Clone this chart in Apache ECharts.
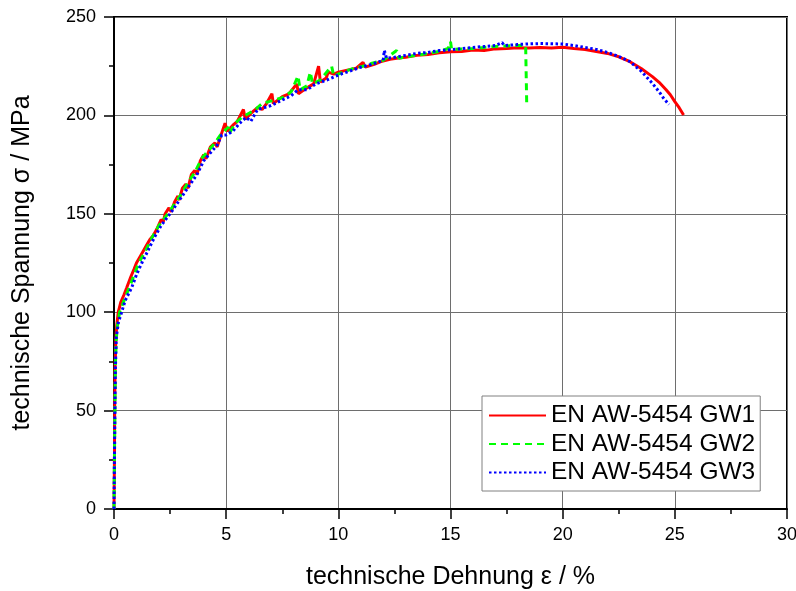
<!DOCTYPE html>
<html>
<head>
<meta charset="utf-8">
<script src="https://cdn.jsdelivr.net/npm/echarts@6/dist/echarts.min.js"></script>
<style>html,body{margin:0;padding:0;background:#fff}#c{width:796px;height:591px}</style>
</head>
<body>
<div id="c"></div>
<script>
var seriesNames = ['EN AW-5454 GW1', 'EN AW-5454 GW2', 'EN AW-5454 GW3'];
var xTicks = [0, 5, 10, 15, 20, 25, 30];
var yTicks = [0, 50, 100, 150, 200, 250];

var gw1 = [[0,0],[0.02,25],[0.03,50],[0.05,72],[0.08,85],[0.12,93],[0.19,100],[0.3,105],[0.45,109],[0.57,112.5],[0.75,118],[0.9,122],[1.0,125],[1.2,129],[1.3,131],[1.45,134],[1.6,137],[1.75,139],[1.9,142],[2.1,147],[2.2,146],[2.28,150],[2.45,153],[2.55,151],[2.7,156],[2.85,159],[2.9,157],[3.05,163],[3.2,165],[3.3,163],[3.45,170],[3.6,172],[3.7,170],[3.85,177],[4.0,180],[4.1,178],[4.3,184],[4.5,186],[4.6,184],[4.8,191],[4.95,196],[5.05,192],[5.3,195],[5.5,197],[5.77,203],[5.85,198],[6.1,201],[6.4,204],[6.6,203],[6.8,206],[7.04,211],[7.1,206],[7.5,209.5],[7.8,211],[8.15,216],[8.22,211],[8.6,214],[8.9,216],[9.12,225],[9.2,217],[9.46,219],[9.55,222],[9.8,221],[10,222],[10.4,223],[10.8,224],[11.1,227],[11.2,224.5],[11.6,226],[11.9,227.3],[12.3,228.5],[12.6,229],[13,229.5],[13.5,230.5],[14,231],[14.5,231.8],[15,232.4],[15.5,232.5],[16,233.2],[16.5,233],[17,233.8],[17.5,234],[18,234.4],[18.5,234.2],[19,234.5],[19.5,234.3],[20,234.6],[20.5,234],[21,233.5],[21.5,232.5],[22,231.5],[22.5,229.8],[23,227.3],[23.5,223.8],[24,219.7],[24.3,216.8],[24.6,213.2],[24.8,210.5],[25,207],[25.2,203.8],[25.39,200.2]];

var gw2 = [[0,0],[0.02,25],[0.04,50],[0.06,72],[0.1,86],[0.15,93],[0.25,100],[0.45,106],[0.68,112.5],[0.9,119],[1.1,125],[1.4,131],[1.7,138],[2.0,144],[2.4,150],[2.7,155],[3.0,160],[3.3,166],[3.6,171],[3.9,178],[4.2,182],[4.5,186],[4.8,191],[5.1,194],[5.15,191],[5.4,196],[5.7,199],[6.0,201],[6.3,203],[6.6,206],[6.9,207],[7.2,208],[7.5,209],[7.9,212],[8.2,220],[8.3,213],[8.6,215],[8.75,222],[8.85,216],[9.2,218],[9.7,225],[9.8,220],[10.2,222],[10.7,224],[11.1,225],[11.5,226.5],[12,228],[12.6,233],[12.7,229],[13,229.8],[13.5,230.5],[14,231.5],[14.5,232.5],[14.9,234],[15.0,237.5],[15.05,233.5],[15.5,233.8],[16,234],[16.5,234.5],[17,235],[17.5,235.3],[18,235.5],[18.35,235.5],[18.4,204.3]];

var gw3 = [[0,0],[0.02,25],[0.04,50],[0.06,70],[0.1,87],[0.2,95],[0.34,100],[0.5,106],[0.79,112.5],[1.0,119],[1.24,125],[1.5,131],[1.8,138],[2.1,144],[2.5,150],[2.8,155],[3.1,160],[3.4,165],[3.7,170],[4.0,177],[4.3,181],[4.6,185],[4.8,190],[5.0,190],[5.3,192],[5.6,196],[5.9,199],[6.1,197],[6.4,203],[6.7,204],[7.0,205],[7.5,207.8],[7.9,210],[8.2,213],[8.6,213],[9.0,216],[9.5,218],[10,220.5],[10.5,222.5],[11,224.5],[11.5,226],[12.0,228],[12.05,233],[12.15,229],[12.5,229.5],[13,230.5],[13.5,231.5],[14,232],[14.5,233],[15,233.3],[15.5,234],[16,234.5],[16.5,235],[17,235.5],[17.3,237],[17.4,235.5],[18,236],[18.4,236.3],[19,236.5],[19.5,236.4],[20,236.3],[20.5,235.5],[21,234.5],[21.5,233.5],[22,232],[22.5,230],[23,227.3],[23.5,222.5],[24,216.3],[24.3,212],[24.5,208.7],[24.74,205.5]];

var FONT = 'Arial, "Liberation Sans", sans-serif';
var chart = echarts.init(document.getElementById('c'), null, {renderer: 'canvas'});
chart.setOption({
  animation: false,
  backgroundColor: '#fff',
  grid: {left: 114, right: 9, top: 17, bottom: 82, outerBoundsMode: 'none', containLabel: false,
         show: true, borderColor: '#000', borderWidth: 2, backgroundColor: 'transparent'},
  xAxis: {
    type: 'value', min: xTicks[0], max: xTicks[xTicks.length - 1], interval: 5,
    name: 'technische Dehnung ε / %', nameLocation: 'middle', nameGap: 56,
    nameTextStyle: {fontFamily: FONT, fontSize: 25, color: '#000'},
    axisLine: {show: true, lineStyle: {color: '#000', width: 2}},
    axisTick: {show: true, length: 10, lineStyle: {color: '#000', width: 1.5}},
    minorTick: {show: true, splitNumber: 2, length: 5, lineStyle: {color: '#000', width: 1.5}},
    axisLabel: {fontFamily: FONT, fontSize: 18, color: '#000', margin: 17},
    splitLine: {show: true, lineStyle: {color: '#6e6e6e', width: 1}}
  },
  yAxis: {
    type: 'value', min: yTicks[0], max: yTicks[yTicks.length - 1], interval: 50,
    name: 'technische Spannung σ / MPa', nameLocation: 'middle', nameGap: 79,
    nameTextStyle: {fontFamily: FONT, fontSize: 25, color: '#000'},
    axisLine: {show: true, lineStyle: {color: '#000', width: 2}},
    axisTick: {show: true, length: 10, lineStyle: {color: '#000', width: 1.5}},
    minorTick: {show: true, splitNumber: 2, length: 5, lineStyle: {color: '#000', width: 1.5}},
    axisLabel: {fontFamily: FONT, fontSize: 18, color: '#000', margin: 18},
    splitLine: {show: true, lineStyle: {color: '#6e6e6e', width: 1}}
  },
  legend: {
    orient: 'vertical', left: 482, top: 396,
    padding: [7, 5, 6, 6],
    itemWidth: 57, itemHeight: 14, itemGap: 3.5,
    backgroundColor: '#fff', borderColor: '#808080', borderWidth: 1,
    itemStyle: {opacity: 0},
    textStyle: {fontFamily: FONT, fontSize: 24.5, color: '#000', lineHeight: 24},
    data: seriesNames
  },
  series: [
    {name: seriesNames[0], type: 'line', data: gw1, symbol: 'none', color: '#ff0000',
     lineStyle: {color: '#ff0000', width: 3, type: 'solid'}},
    {name: seriesNames[1], type: 'line', data: gw2, symbol: 'none', color: '#00ff00',
     lineStyle: {color: '#00ff00', width: 3, type: [7, 5]}},
    {name: seriesNames[2], type: 'line', data: gw3, symbol: 'none', color: '#0000ff',
     lineStyle: {color: '#0000ff', width: 3, type: [2.5, 2.5]}}
  ]
});
</script>
</body>
</html>
